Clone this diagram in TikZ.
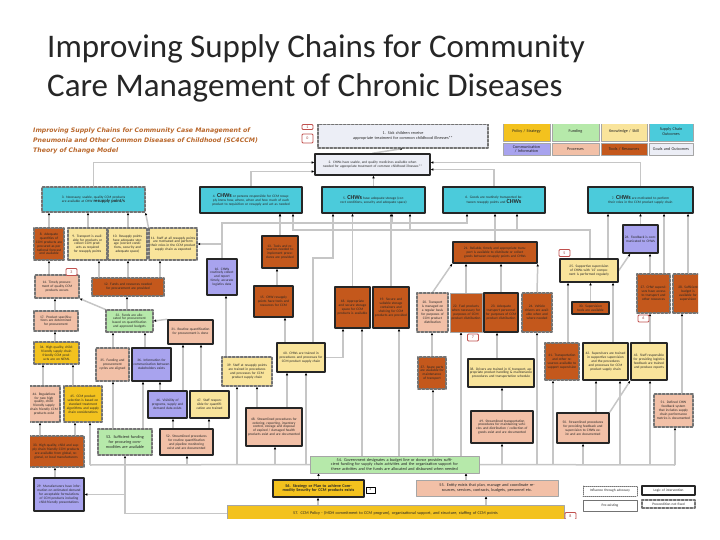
\documentclass[tikz,border=0pt]{standalone}
\usepackage{fontspec}
\setmainfont{Carlito}
\setsansfont{Carlito}
\newfontfamily\hdrfont{DejaVu Sans}
\usepackage{tikz}
\usetikzlibrary{arrows.meta}

\definecolor{cyanbox}{HTML}{4BCBDB}
\definecolor{goldbox}{HTML}{F3C21E}
\definecolor{yelbox}{HTML}{F9E49B}
\definecolor{grnbox}{HTML}{B6E9AA}
\definecolor{lavbox}{HTML}{A8A3EE}
\definecolor{pchbox}{HTML}{F2C0A7}
\definecolor{rstbox}{HTML}{C4581C}
\definecolor{goalbox}{HTML}{ECEEF6}
\definecolor{linkgray}{HTML}{C6C6C6}
\definecolor{hdrorange}{HTML}{B8662A}
\definecolor{tagred}{HTML}{C0504D}
\definecolor{titlegray}{HTML}{262626}

\pgfdeclarelayer{bg}
\pgfsetlayers{bg,main}

% box from (x1,y1) to (x2,y2) in slide pixels
\newcommand{\tocbox}[7]{%
  \pgfmathsetmacro{\boxw}{#4-#2}\pgfmathsetmacro{\boxh}{#5-#3}%
  \pgfmathsetmacro{\textw}{#4-#2-3}%
  \node[tbox,#6,minimum width=\boxw pt,minimum height=\boxh pt,text width=\textw pt]
    (#1) at ({(#2+#4)/2},{(#3+#5)/2}) {#7};}
\newcommand{\chws}{{\bfseries\fontsize{6}{3.9}\selectfont CHWs}}

\begin{document}
\begin{tikzpicture}[x=1pt, y=-1pt, line cap=round, line join=round,
    tbox/.style={rectangle, inner sep=0.5pt, align=center, text=black!85,
      font=\sffamily\fontsize{3.5}{3.9}\selectfont},
    big/.style={font=\sffamily\fontsize{4.2}{4.7}\selectfont},
    sol/.style={draw=black!85, line width=1.5pt},
    dsh/.style={draw=black!55, line width=1.1pt, dash pattern=on 2.6pt off 1.4pt},
    thin/.style={draw=black!35, line width=0.5pt},
    cy/.style={fill=cyanbox}, gd/.style={fill=goldbox}, yl/.style={fill=yelbox},
    gr/.style={fill=grnbox}, lv/.style={fill=lavbox}, pc/.style={fill=pchbox},
    rs/.style={fill=rstbox}, goal/.style={fill=goalbox},
    link/.style={draw=linkgray, line width=1.5pt,
      -{Latex[length=2.6pt,width=2.6pt,color=black]}},
    wire/.style={draw=linkgray, line width=1.5pt},
    redtag/.style={draw=tagred, fill=white, line width=0.8pt, rounded corners=1pt,
      inner sep=0.5pt, minimum width=11pt, minimum height=7pt, text=tagred!80!black,
      font=\sffamily\fontsize{4}{4}\selectfont},
    blktag/.style={draw=black, fill=white, line width=0.6pt, inner sep=0.3pt,
      minimum width=9pt, minimum height=6pt, font=\sffamily\fontsize{3}{3}\selectfont},
    hdr/.style={anchor=base west, inner sep=0, text=hdrorange,
      font=\hdrfont\bfseries\itshape\fontsize{6.2}{8}\selectfont}]
\useasboundingbox (0,0) rectangle (720,540);

% slide title
\node[anchor=base west, inner sep=0, text=titlegray, font=\fontsize{33}{38}\selectfont]
  (title1) at (47,58) {Improving Supply Chains for Community};
\node[anchor=base west, inner sep=0, text=titlegray, font=\fontsize{33}{38}\selectfont]
  (title2) at (47,97) {Care Management of Chronic Diseases};

\begin{scope}
\clip (30,125) rectangle (698,518);
\node[hdr] (hdr1) at (33,133) {Improving Supply Chains for Community Case Management of};
\node[hdr] (hdr2) at (33,143) {Pneumonia and Other Common Diseases of Childhood (SC4CCM)};
\node[hdr] (hdr3) at (33,153) {Theory of Change Model};

% legend
\tocbox{lg1}{503}{122}{550}{141}{thin,gd,big}{Policy / Strategy}
\tocbox{lg2}{552}{122}{599}{141}{thin,gr,big}{Funding}
\tocbox{lg3}{601}{122}{647}{141}{thin,yl,big}{Knowledge / Skill}
\tocbox{lg4}{649}{122}{693}{141}{thin,cy,big}{Supply Chain Outcomes}
\tocbox{lg5}{503}{143}{550}{155}{thin,lv,big}{Communication / Information}
\tocbox{lg6}{552}{143}{599}{155}{thin,pc,big}{Processes}
\tocbox{lg7}{601}{143}{647}{155}{thin,rs,big}{Tools / Resources}
\tocbox{lg8}{649}{143}{693}{155}{thin,goal,big}{Goals and Outcomes}

% goals and outcomes
\tocbox{n1}{318}{124}{488}{148}{dsh,goal,big}{1. Sick children receive\\ appropriate treatment for common childhood illnesses**}
\tocbox{n2}{315}{154}{430}{175}{sol,goal}{2. CHWs have usable, and quality medicines available when needed for appropriate treatment of common childhood illnesses**}
\tocbox{n3}{42}{187}{145}{212}{dsh,cy}{3. Necessary, usable, quality CCM products are available at CHW {\bfseries\fontsize{4.6}{3.9}\selectfont resupply point/s}}
\tocbox{n4}{200}{187}{302}{213}{sol,cy}{4. \chws{} or persons responsible for CCM resupply know how, where, when and how much of each product to requisition or resupply and act as needed}
\tocbox{n5}{322}{187}{425}{213}{sol,cy}{5. \chws{} have adequate storage (correct conditions, security and adequate space)}
\tocbox{n6}{443}{187}{545}{213}{sol,cy}{6. Goods are routinely transported between resupply points and \chws}
\tocbox{n7}{588}{187}{693}{213}{sol,cy}{7. \chws{} are motivated to perform their roles in the CCM product supply chain}

% preconditions
\tocbox{n8}{34}{228}{64}{260}{dsh,rs}{8. Adequate quantities of CCM products are procured as per national forecast and available}
\tocbox{n9}{68}{228}{107}{260}{dsh,yl}{9. Transport is available for products or collect CCM products as required for resupply points}
\tocbox{n10}{108}{228}{147}{260}{dsh,yl}{10. Resupply points have adequate storage (correct conditions, security and adequate space)}
\tocbox{n11}{149}{228}{197}{260}{dsh,yl}{11. Staff at all resupply points are motivated and perform their roles in the CCM product supply chain as expected}
\tocbox{n12}{92}{278}{164}{296}{dsh,rs}{12. Funds and resources needed for procurement are provided}
\tocbox{n13}{262}{236}{298}{268}{sol,rs}{13. Tools and resources needed to implement procedures are provided}
\tocbox{n14}{35}{275}{79}{298}{dsh,pc}{14. Timely procurement of quality CCM products occurs}
\tocbox{n15}{254}{286}{293}{317}{sol,rs}{15. CHW resupply points have tools and resources for CCM}
\tocbox{n16}{207}{259}{237}{295}{sol,lv}{16. CHWs routinely collect and report timely, accurate logistics data}
\tocbox{n17}{34}{311}{78}{331}{dsh,pc}{17. Product specifications are determined for procurement}
\tocbox{n18}{335}{287}{370}{328}{sol,rs}{18. Appropriate and secure storage space for CCM products is available}
\tocbox{n19}{373}{287}{409}{328}{sol,rs}{19. Secure and suitable storage containers and shelving for CCM products are provided}
\tocbox{n20}{417}{293}{448}{332}{dsh,pc}{20. Transport is managed on a regular basis for purposes of CCM product distribution}
\tocbox{n21}{453}{242}{537}{263}{sol,rs}{21. Reliable, timely and appropriate transport is available to distribute or collect goods between resupply points and CHWs}
\tocbox{n22}{450}{293}{482}{332}{thin,rs}{22. Fuel products when necessary for purposes of CCM product distribution}
\tocbox{n23}{484}{293}{518}{332}{sol,rs}{23. Adequate transport personnel for purposes of CCM product distribution}
\tocbox{n24}{522}{293}{552}{332}{dsh,rs}{24. Vehicle drivers are available when and where needed}
\tocbox{n25}{560}{259}{618}{282}{sol,yl}{25. Supportive supervision of CHWs with `LS' component is performed regularly}
\tocbox{n26}{623}{225}{658}{253}{sol,lv}{26. Feedback is communicated to CHWs}
\tocbox{n27}{637}{274}{670}{313}{dsh,rs}{27. CHW supervisors have access to transport and other resources}
\tocbox{n28}{673}{274}{703}{313}{dsh,rs}{28. Sufficient budget is available for supervision}
\tocbox{n30}{572}{302}{609}{314}{sol,rs}{30. Supervision tools are available}
\tocbox{n31}{168}{320}{213}{344}{sol,pc}{31. Routine quantification for procurement is done}
\tocbox{n32}{106}{310}{153}{332}{dsh,gr}{32. Funds are allocated for procurement based on quantification and approved budgets}
\tocbox{n34}{34}{342}{79}{364}{dsh,gd}{34. High quality, child-friendly supply chain friendly CCM products are on NEML}
\tocbox{n35}{96}{348}{129}{381}{dsh,pc}{35. Funding and procurement cycles are aligned}
\tocbox{n36}{132}{348}{171}{381}{sol,lv}{36. Information for communication between stakeholders exists}
\tocbox{n37}{418}{357}{446}{389}{dsh,rs}{37. Spare parts are available for maintenance of transport}
\tocbox{n38}{468}{359}{534}{387}{sol,yl}{38. Drivers are trained in IC transport, appropriate product handling \& maintenance procedures and transportation schedule}
\tocbox{n39}{222}{357}{272}{386}{dsh,yl}{39. Staff at resupply points are trained in procedures and processes for CCM product supply chain}
\tocbox{n40}{277}{343}{325}{372}{sol,yl}{40. CHWs are trained in procedures and processes for CCM product supply chain}
\tocbox{n41}{545}{343}{579}{380}{dsh,rs}{41. Transportation and other resources available to support supervision}
\tocbox{n42}{583}{343}{628}{380}{sol,yl}{42. Supervisors are trained in supportive supervision and the procedures and processes for CCM product supply chain}
\tocbox{n43}{631}{343}{667}{380}{sol,yl}{43. Staff responsible for providing logistics feedback are trained and produce reports}
\tocbox{n44}{28}{386}{60}{422}{dsh,pc}{44. Regulations for new high quality, child-friendly supply chain friendly CCM products exist}
\tocbox{n45}{64}{386}{102}{422}{dsh,gd}{45. CCM product selection is based on standard treatment algorithms and supply chain considerations}
\tocbox{n46}{148}{391}{187}{418}{sol,lv}{46. Visibility of programs, supply and demand data exists}
\tocbox{n47}{190}{391}{229}{418}{sol,yl}{47. Staff responsible for quantification are trained}
\tocbox{n48}{246}{408}{302}{446}{sol,pc}{48. Streamlined procedures for ordering, reporting, inventory control, storage and disposal of expired / damaged health products exist and are documented}
\tocbox{n49}{471}{411}{533}{443}{sol,pc}{49. Streamlined transportation procedures for maintaining vehicles and distribution / collection of goods exist and are documented}
\tocbox{n50}{557}{413}{609}{443}{sol,pc}{50. Streamlined procedures for providing feedback and supervision to CHWs exist and are documented}
\tocbox{n51}{654}{394}{693}{427}{dsh,pc}{51. Defined CHW feedback system that includes supply chain performance metrics is documented}
\tocbox{n52}{160}{429}{213}{455}{sol,pc}{52. Streamlined procedures for routine quantification and pipeline monitoring exist and are documented}
\tocbox{n53}{98}{429}{152}{455}{dsh,gr,big}{53. Sufficient funding for procuring commodities are available}
\tocbox{n33}{28}{436}{84}{467}{dsh,rs}{33. High quality, child and supply chain friendly CCM products are available from global, regional, or local manufacturers}
\tocbox{n29}{34}{478}{84}{511}{sol,lv}{29. Manufacturers have information on estimated demand for acceptable formulations of CCM products including child-friendly presentations}

% enabling environment
\tocbox{n54}{310}{456}{479}{473}{thin,gr,big}{54. Government designates a budget line or donor provides sufficient funding for supply chain activities and the organization support for these activities and the funds are allocated and disbursed when needed}
\tocbox{n55}{416}{480}{558}{496}{thin,pc,big}{55. Entity exists that plan, manage and coordinate resources, services, contracts, budgets, personnel etc.}
\tocbox{n56}{273}{480}{364}{497}{sol,gd,big}{\bfseries 56. Strategy or Plan to achieve Commodity Security for CCM products exists}
\tocbox{n57}{227}{505}{564}{522}{thin,gd,big}{57. CCM Policy - (MOH commitment to CCM program), organizational support, and structure, staffing of CCM points}

% key for borders
\tocbox{lk1}{583}{486}{637}{496}{draw=black!55,line width=0.8pt,dash pattern=on 1pt off 1pt}{Influence through advocacy}
\tocbox{lk2}{583}{500}{637}{511}{draw=black!55,line width=0.8pt}{Pre-existing}
\tocbox{lk3}{642}{486}{695}{495}{sol}{Logic of intervention}
\tocbox{lk4}{642}{500}{695}{508}{dsh}{Precondition not fixed}

% tags
\node[redtag, minimum height=5pt] (m1) at (307.5,127) {1};
\node[redtag, minimum height=9pt] (m2) at (307.5,138.5) {0};
\node[redtag] (m3) at (71.5,272) {3};
\node[redtag] (m5) at (564.5,253) {5};
\node[redtag] (m6) at (643.5,318.5) {6};
\node[redtag] (m7) at (473,337.5) {7};
\node[redtag] (m8) at (570.5,516) {8};
\node[blktag] (m4) at (370.5,490) {4};

\begin{pgfonlayer}{bg}
% into goals
\draw[link] (n2.north) -- (n1.south);
\draw[link] (n3.north) |- ([yshift=2pt]n2.west);
\draw[link] (n4.north) |- ([yshift=-7pt]n2.west);
\draw[link] (n5.north) -- (n5.north |- n2.south);
\draw[link] (n6.north) |- ([yshift=-5pt]n2.east);
\draw[link] (n7.north) |- ([yshift=2pt]n2.east);
% procurement side
\foreach \b/\x in {n8/49,n9/88,n10/128}
  \draw[link] (\b.north -| \x,0) -- (n3.south -| \x,0);
\draw[link] (n11.north west) -- (n3.south east);
\foreach \b/\x in {n9/99,n10/128,n11/160}
  \draw[link] (n12.north -| \x,0) -- (\b.south -| \x,0);
\draw[link] (n14.north -| 49,0) -- (n8.south -| 49,0);
\draw[link] (n17.north -| 55,0) -- (n14.south -| 55,0);
\draw[link] (n34.north -| 55,0) -- (n17.south -| 55,0);
\draw[link] (n44.north -| 43,0) -- (n34.south -| 43,0);
\draw[link] (n45.north -| 73,0) -- (n34.south -| 73,0);
\draw[link] (n33.north -| 40,0) -- (n44.south -| 40,0);
\draw[link] (n33.north -| 75,0) -- (n45.south -| 75,0);
\draw[link] (n29.north -| 55,0) -- (n33.south -| 55,0);
\draw[link] (n57.west) -| (n53.south);
\draw[link] (n53.south |- n29.east) -- (n29.east);
\foreach \b/\x in {n35/113,n36/143}
  \draw[link] (n53.north -| \x,0) -- (\b.south -| \x,0);
\foreach \b/\x in {n35/113,n36/145}
  \draw[link] (\b.north -| \x,0) -- (n32.south -| \x,0);
\draw[link] (n32.north west) -- (n14.south east);
\draw[link] (n32.north -| 127,0) -- (n12.south -| 127,0);
\draw[link] (n31.north west) -- (n32.east);
\draw[link] (n46.north -| 183,0) -- (n31.south -| 183,0);
\draw[link] (n47.north -| 201,0) -- (n31.south -| 201,0);
\draw[link] (n52.north -| 173,0) -- (n46.south -| 173,0);
\draw[link] (n52.north -| 209,0) -- (n47.south -| 209,0);
\draw[link] (n46.north -| 160,0) -- (n36.south -| 160,0);
% data and supervision lines
\coordinate (dbus) at (222,223);
\coordinate (sbus) at (590,230);
\draw[link] (n16.north) |- (n11.east);
\draw[link] (n16.north) -- (dbus) -| (n6.south -| 467,0);
\draw[link] (dbus -| 280,0) -- (n4.south -| 280,0);
\draw[link] (dbus -| 392,0) -- (n5.south -| 392,0);
\draw[link] (n25.north -| sbus) -- (sbus) -| (n4.south -| 293,0);
\draw[link] (sbus -| 410,0) -- (n5.south -| 410,0);
\draw[link] (sbus -| 517,0) -- (n6.south -| 517,0);
% transport
\draw[link] (n21.north) -- (n21.north |- n6.south);
\draw[link] (n20.north) -- (n21.south west);
\draw[link] (n22.north) -- (n22.north |- n21.south);
\draw[link] (n23.north) -- (n23.north |- n21.south);
\draw[link] (n24.north) -- (n21.south east);
\draw[link] (n37.north) -- (n37.north |- n20.south);
\draw[link] (n38.north -| 497,0) -- (n23.south -| 497,0);
\draw[link] (n49.north) -- (n49.north |- n38.south);
% storage
\draw[link] (n18.north) -- (n18.north |- n5.south);
\draw[link] (n19.north) -- (n19.north |- n5.south);
\draw[link] (n15.north -| 277,0) -- (n13.south -| 277,0);
\draw[link] (n13.north) -- (n13.north |- n4.south);
\draw[link] (n40.north -| 285,0) -- (n15.south -| 285,0);
\draw[link] (n40.north -| 313,0) |- (333,258) -- (n5.south -| 333,0);
\draw[link] (n40.east) -| (n18.south -| 343,0);
\draw[link] (n39.north -| 226,0) -- (n16.south -| 226,0);
\draw[link] (n48.north -| 257,0) -- (n39.south -| 257,0);
\draw[link] (n48.north -| 287,0) -- (n40.south -| 287,0);
% supervision
\draw[link] (n25.north -| 608,0) -- (n7.south -| 608,0);
\draw[link] (n25.east) -- ([xshift=8pt]n26.south west);
\draw[link] (n26.north) -- (n26.north |- n7.south);
\draw[link] (n27.north -| 664,0) -- (n7.south -| 664,0);
\draw[link] (n28.north -| 688,0) -- (n7.south -| 688,0);
\draw[link] (n27.north -| 650,0) -- (n26.south -| 650,0);
\draw[link] (n41.north -| 568,0) -- (n25.south -| 568,0);
\draw[link] (n30.north) -- (n30.north |- n25.south);
\draw[link] (n42.north -| 613,0) -- (n25.south -| 613,0);
\draw[link] (n50.north -| 596,0) -- (n42.south -| 596,0);
\draw[link] (n50.north east) -- (n43.south west);
\draw[link] (n43.north -| 650,0) -- (n27.south -| 650,0);
\draw[link] (n51.north -| 682,0) -- (n28.south -| 682,0);
% funding line along the bottom
\coordinate (fbusL) at (90,465);
\coordinate (fbusR) at (675,465);
\draw[wire] (n54.west) -- (fbusL);
\draw[wire] (n54.east) -- (fbusR);
\foreach \b/\x in {n45/90,n52/187,n39/237,n48/275,n40/306}
  \draw[link] (fbusL -| \x,0) -- (\b.south -| \x,0);
\foreach \b/\x in {n18/362,n19/399,n37/433,n22/461}
  \draw[link] (n54.north -| \x,0) -- (\b.south -| \x,0);
\foreach \b/\x in {n49/502,n24/537,n41/553,n50/583,n42/620,n43/650,n51/675}
  \draw[link] (fbusR -| \x,0) -- (\b.south -| \x,0);
\draw[link] (n56.north) -- (n56.north |- n54.south);
\draw[link] (n55.north -| 466,0) -- (n54.south -| 466,0);
\draw[link] (n57.north -| 318,0) -- (n56.south -| 318,0);
\draw[link] (n57.north -| 486,0) -- (n55.south -| 486,0);
\end{pgfonlayer}
\end{scope}
\end{tikzpicture}
\end{document}
